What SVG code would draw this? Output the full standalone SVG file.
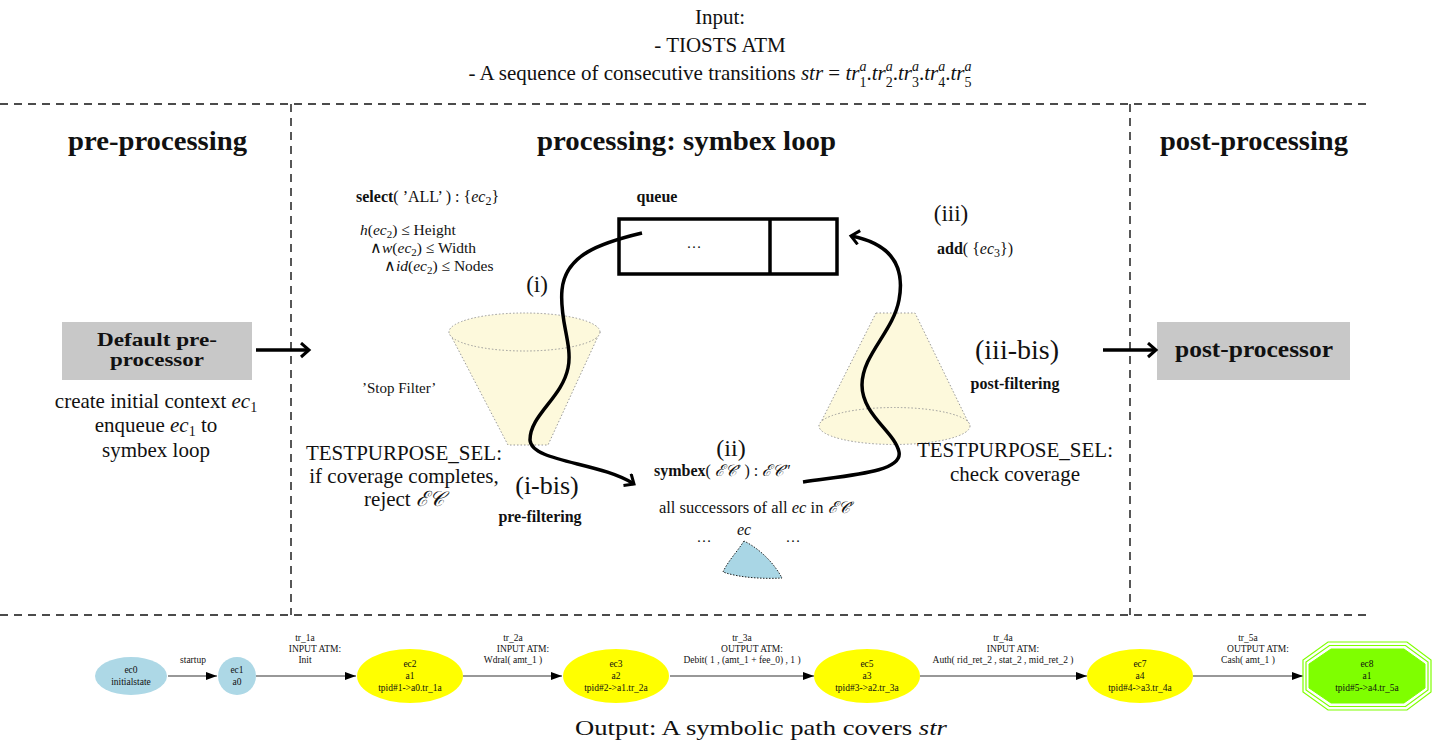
<svg xmlns="http://www.w3.org/2000/svg" width="1442" height="744" viewBox="0 0 1442 744">
<defs>
<style>
.t{font-family:"Liberation Serif",serif;fill:#111}
.b{font-weight:bold}
.i{font-style:italic}
.dash{stroke:#111;stroke-width:1.4;stroke-dasharray:8,6;fill:none}
.thick{stroke:#000;stroke-width:3.5;fill:none}
.cone{fill:#fdf9dc;stroke:#999;stroke-width:1;stroke-dasharray:1.5,2}
.g{font-family:"Liberation Serif",serif;font-size:9.5px;fill:#111;text-anchor:middle}
.edge{stroke:#333;stroke-width:1.2;fill:none}
</style>
<marker id="chev" markerUnits="userSpaceOnUse" markerWidth="20" markerHeight="20" refX="10" refY="8" orient="auto">
<path d="M2,1 L10,8 L2,15" fill="none" stroke="#000" stroke-width="3"/>
</marker>
<marker id="tri" markerUnits="userSpaceOnUse" markerWidth="12" markerHeight="10" refX="11" refY="4" orient="auto">
<path d="M0,0 L11,4 L0,8 Z" fill="#000"/>
</marker>
</defs>
<rect width="1442" height="744" fill="#fff"/>

<g id="header">
<text class="t" x="720" y="24" font-size="21" text-anchor="middle">Input:</text>
<text class="t" x="720" y="52" font-size="21" text-anchor="middle">- TIOSTS ATM</text>
<text class="t" x="720" y="80" font-size="21" text-anchor="middle">- A sequence of consecutive transitions <tspan class="i">str</tspan> = <tspan class="i">tr</tspan><tspan font-size="14" dy="7">1</tspan><tspan class="i" font-size="14" dx="-7" dy="-16">a</tspan><tspan dy="9">.</tspan><tspan class="i">tr</tspan><tspan font-size="14" dy="7">2</tspan><tspan class="i" font-size="14" dx="-7" dy="-16">a</tspan><tspan dy="9">.</tspan><tspan class="i">tr</tspan><tspan font-size="14" dy="7">3</tspan><tspan class="i" font-size="14" dx="-7" dy="-16">a</tspan><tspan dy="9">.</tspan><tspan class="i">tr</tspan><tspan font-size="14" dy="7">4</tspan><tspan class="i" font-size="14" dx="-7" dy="-16">a</tspan><tspan dy="9">.</tspan><tspan class="i">tr</tspan><tspan font-size="14" dy="7">5</tspan><tspan class="i" font-size="14" dx="-7" dy="-16">a</tspan></text>
</g>

<g id="frame">
<line class="dash" x1="0" y1="104" x2="1370" y2="104"/>
<line class="dash" x1="0" y1="615" x2="1370" y2="615"/>
<line class="dash" x1="291" y1="104" x2="291" y2="615"/>
<line class="dash" x1="1130" y1="104" x2="1130" y2="615"/>
<text class="t b" x="68" y="150" font-size="27" textLength="179" lengthAdjust="spacingAndGlyphs">pre-processing</text>
<text class="t b" x="537" y="150" font-size="27" textLength="299" lengthAdjust="spacingAndGlyphs">processing: symbex loop</text>
<text class="t b" x="1160" y="150" font-size="27" textLength="188" lengthAdjust="spacingAndGlyphs">post-processing</text>
</g>

<g id="preprocessor">
<rect x="62" y="322" width="190" height="58" fill="#c8c8c8"/>
<text class="t b" x="157" y="346" font-size="19.5" text-anchor="middle" textLength="120" lengthAdjust="spacingAndGlyphs">Default pre-</text>
<text class="t b" x="157" y="366" font-size="19.5" text-anchor="middle" textLength="94" lengthAdjust="spacingAndGlyphs">processor</text>
<text class="t" x="156" y="408" font-size="21" text-anchor="middle">create initial context <tspan class="i">ec</tspan><tspan font-size="14" dy="4">1</tspan></text>
<text class="t" x="156" y="432" font-size="21" text-anchor="middle">enqueue <tspan class="i">ec</tspan><tspan font-size="14" dy="4">1</tspan><tspan dy="-4"> to</tspan></text>
<text class="t" x="156" y="457" font-size="21" text-anchor="middle">symbex loop</text>
</g>

<g id="postprocessor">
<rect x="1157" y="322" width="193" height="58" fill="#c8c8c8"/>
<text class="t b" x="1254" y="357" font-size="23" text-anchor="middle" textLength="158" lengthAdjust="spacingAndGlyphs">post-processor</text>
</g>

<g id="select">
<text class="t" x="356" y="202" font-size="16"><tspan class="b">select</tspan>( ’ALL’ ) : {<tspan class="i">ec</tspan><tspan font-size="12" dy="3">2</tspan><tspan dy="-3">}</tspan></text>
<text class="t" x="360" y="235" font-size="15.5"><tspan class="i">h</tspan>(<tspan class="i">ec</tspan><tspan font-size="11" dy="3">2</tspan><tspan dy="-3">) ≤ Height</tspan></text>
<text class="t" x="370" y="253" font-size="15.5">∧<tspan class="i">w</tspan>(<tspan class="i">ec</tspan><tspan font-size="11" dy="3">2</tspan><tspan dy="-3">) ≤ Width</tspan></text>
<text class="t" x="384" y="271" font-size="15.5">∧<tspan class="i">id</tspan>(<tspan class="i">ec</tspan><tspan font-size="11" dy="3">2</tspan><tspan dy="-3">) ≤ Nodes</tspan></text>
</g>

<g id="queue">
<text class="t b" x="657" y="202" font-size="16" text-anchor="middle">queue</text>
<rect x="619" y="219" width="218" height="55" fill="none" stroke="#000" stroke-width="3.5"/>
<line x1="770" y1="219" x2="770" y2="274" stroke="#000" stroke-width="3.5"/>
<text class="t" x="694" y="248" font-size="15" text-anchor="middle">…</text>
</g>

<g id="add">
<text class="t" x="951" y="221" font-size="23" text-anchor="middle">(iii)</text>
<text class="t" x="937" y="254" font-size="16"><tspan class="b">add</tspan>( {<tspan class="i">ec</tspan><tspan font-size="12" dy="3">3</tspan><tspan dy="-3">})</tspan></text>
</g>

<g id="prefilter">
<path class="cone" d="M449,332 L508,445 L548,445 L600,332"/>
<ellipse class="cone" cx="524.5" cy="332" rx="75.5" ry="19"/>
<text class="t" x="537" y="292" font-size="23" text-anchor="middle">(i)</text>
<text class="t" x="362" y="393" font-size="15">’Stop Filter’</text>
<text class="t" x="404" y="460" font-size="21" text-anchor="middle">TESTPURPOSE_SEL:</text>
<text class="t" x="404" y="483" font-size="21" text-anchor="middle">if coverage completes,</text>
<text class="t" x="404" y="506" font-size="21" text-anchor="middle">reject <tspan class="i">ℰ𝒞</tspan></text>
<text class="t" x="547" y="494" font-size="26" text-anchor="middle">(i-bis)</text>
<text class="t b" x="540" y="522" font-size="16" text-anchor="middle">pre-filtering</text>
</g>

<g id="postfilter">
<path class="cone" d="M876,313 L915,313 L970,426 L819,426 Z"/>
<ellipse class="cone" cx="894.5" cy="426" rx="75.5" ry="18.5"/>
<text class="t" x="1017" y="359" font-size="28" text-anchor="middle">(iii-bis)</text>
<text class="t b" x="1015" y="389" font-size="16" text-anchor="middle">post-filtering</text>
<text class="t" x="1015" y="457" font-size="21" text-anchor="middle">TESTPURPOSE_SEL:</text>
<text class="t" x="1015" y="481" font-size="21" text-anchor="middle">check coverage</text>
</g>

<g id="symbex">
<text class="t" x="731" y="456" font-size="24" text-anchor="middle">(ii)</text>
<text class="t" x="654" y="476" font-size="16"><tspan class="b">symbex</tspan>( <tspan class="i">ℰ𝒞</tspan>′ ) : <tspan class="i">ℰ𝒞</tspan>″</text>
<text class="t" x="756" y="513" font-size="16.5" text-anchor="middle">all successors of all <tspan class="i">ec</tspan> in <tspan class="i">ℰ𝒞</tspan>′</text>
<text class="t" x="704" y="542" font-size="15" text-anchor="middle">…</text>
<text class="t i" x="744" y="535" font-size="16" text-anchor="middle">ec</text>
<text class="t" x="793" y="542" font-size="15" text-anchor="middle">…</text>
<path d="M744,541 C737,552 728,561 723,572 C740,578 765,579 782,578 C775,565 762,550 744,541 Z" fill="#a9d6e5" stroke="#222" stroke-width="1" stroke-dasharray="1.5,1.5"/>
</g>

<g id="connectors">
<line x1="256" y1="350" x2="309" y2="350" stroke="#000" stroke-width="3.5" marker-end="url(#chev)"/>
<line x1="1103" y1="350" x2="1156" y2="350" stroke="#000" stroke-width="3.5" marker-end="url(#chev)"/>
<path class="thick" d="M642,233 C600,243 565,255 562,290 C559,320 573,345 568,368 C562,398 530,415 530,440 C531,462 600,462 634,484" marker-end="url(#chev)"/>
<path class="thick" d="M803,482 C850,475 903,472 899,452 C895,432 862,415 862,385 C862,355 893,332 899,300 C905,268 893,244 851,236" marker-end="url(#chev)"/>
<line class="edge" x1="168" y1="676" x2="217" y2="676" marker-end="url(#tri)"/>
<line class="edge" x1="256" y1="676" x2="356" y2="676" marker-end="url(#tri)"/>
<line class="edge" x1="463" y1="676" x2="562" y2="676" marker-end="url(#tri)"/>
<line class="edge" x1="670" y1="676" x2="814" y2="676" marker-end="url(#tri)"/>
<line class="edge" x1="920" y1="676" x2="1087" y2="676" marker-end="url(#tri)"/>
<line class="edge" x1="1193" y1="676" x2="1303" y2="676" marker-end="url(#tri)"/>
<text class="g" x="193" y="663">startup</text>
<text class="g" x="305" y="641">tr_1a</text>
<text class="g" x="315" y="652">INPUT ATM:</text>
<text class="g" x="305" y="663">Init</text>
<text class="g" x="513" y="641">tr_2a</text>
<text class="g" x="523" y="652">INPUT ATM:</text>
<text class="g" x="513" y="663">Wdral( amt_1 )</text>
<text class="g" x="742" y="641">tr_3a</text>
<text class="g" x="752" y="652">OUTPUT ATM:</text>
<text class="g" x="742" y="663">Debit( 1 , (amt_1 + fee_0) , 1 )</text>
<text class="g" x="1003" y="641">tr_4a</text>
<text class="g" x="1013" y="652">INPUT ATM:</text>
<text class="g" x="1003" y="663">Auth( rid_ret_2 , stat_2 , mid_ret_2 )</text>
<text class="g" x="1248" y="641">tr_5a</text>
<text class="g" x="1258" y="652">OUTPUT ATM:</text>
<text class="g" x="1248" y="663">Cash( amt_1 )</text>
</g>

<g id="ec0">
<ellipse cx="131" cy="676" rx="36" ry="19" fill="#add8e6"/>
<text class="g" x="131" y="673">ec0</text>
<text class="g" x="131" y="685">initialstate</text>
</g>
<g id="ec1">
<circle cx="237" cy="676" r="19" fill="#add8e6"/>
<text class="g" x="237" y="673">ec1</text>
<text class="g" x="237" y="685">a0</text>
</g>
<g id="ec2">
<ellipse cx="410" cy="676" rx="53" ry="27" fill="#ffff00"/>
<text class="g" x="410" y="667">ec2</text>
<text class="g" x="410" y="679">a1</text>
<text class="g" x="410" y="691">tpid#1-&gt;a0.tr_1a</text>
</g>
<g id="ec3">
<ellipse cx="616" cy="676" rx="53" ry="27" fill="#ffff00"/>
<text class="g" x="616" y="667">ec3</text>
<text class="g" x="616" y="679">a2</text>
<text class="g" x="616" y="691">tpid#2-&gt;a1.tr_2a</text>
</g>
<g id="ec5">
<ellipse cx="867" cy="676" rx="53" ry="27" fill="#ffff00"/>
<text class="g" x="867" y="667">ec5</text>
<text class="g" x="867" y="679">a3</text>
<text class="g" x="867" y="691">tpid#3-&gt;a2.tr_3a</text>
</g>
<g id="ec7">
<ellipse cx="1140" cy="676" rx="53" ry="27" fill="#ffff00"/>
<text class="g" x="1140" y="667">ec7</text>
<text class="g" x="1140" y="679">a4</text>
<text class="g" x="1140" y="691">tpid#4-&gt;a3.tr_4a</text>
</g>
<g id="ec8">
<polygon points="1328,642 1407,642 1431,660 1431,692 1407,710 1328,710 1303,692 1303,660" fill="none" stroke="#7fff00" stroke-width="1.2"/>
<polygon points="1329.5,645.5 1405.5,645.5 1428,662 1428,690 1405.5,706.5 1329.5,706.5 1306,690 1306,662" fill="none" stroke="#7fff00" stroke-width="1.2"/>
<polygon points="1331,649 1404,649 1425,664 1425,688 1404,703 1331,703 1309,688 1309,664" fill="#7fff00" stroke="#7fff00" stroke-width="1"/>
<text class="g" x="1367" y="667">ec8</text>
<text class="g" x="1367" y="679">a1</text>
<text class="g" x="1367" y="691">tpid#5-&gt;a4.tr_5a</text>
</g>

<g id="footer">
<text class="t" x="575" y="735" font-size="22" textLength="372" lengthAdjust="spacingAndGlyphs">Output: A symbolic path covers <tspan class="i">str</tspan></text>
</g>
</svg>
